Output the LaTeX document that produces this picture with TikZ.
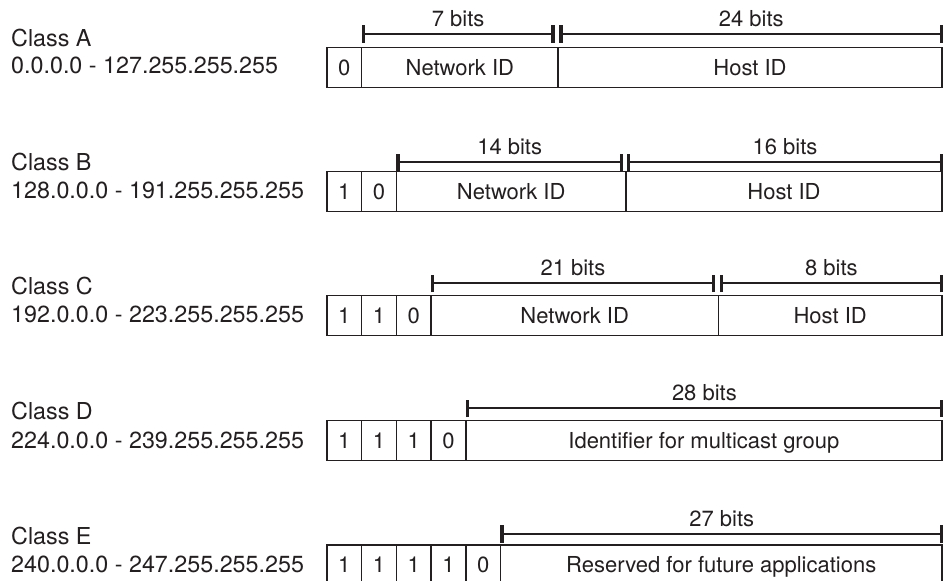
\documentclass[tikz,border=0pt]{standalone}
\usepackage{fontspec}
\setmainfont{TeX Gyre Heros}
\definecolor{ink}{HTML}{231F20}
\newcommand\tk[1]{\draw[tickline] ([yshift=-8.7pt]#1) -- ([yshift=8.7pt]#1);}
\begin{document}
\begin{tikzpicture}[x=1pt,y=-1pt,
  cell/.style={draw=ink, line width=1.4pt, anchor=north west, minimum height=40pt,
    inner sep=0pt, outer sep=0pt, text height=16pt, text depth=1pt,
    font=\fontsize{22}{26}\selectfont, text=ink},
  bitcell/.style={cell, minimum width=34.7pt},
  spanline/.style={draw=ink, line width=2.2pt},
  tickline/.style={draw=ink, line width=3.2pt},
  spanlabel/.style={anchor=base, inner sep=0pt, font=\fontsize{22}{26}\selectfont, text=ink, yshift=7.5pt},
  lbl/.style={anchor=base west, inner sep=0pt, font=\fontsize{23.3}{28}\selectfont, text=ink}]
\useasboundingbox (0,0) rectangle (943,581);

% ---------------- Class A ----------------
\node[lbl] (la) at (11,46.7) {Class A};
\node[lbl] (lar) at (11,73.3) {0.0.0.0 - 127.255.255.255};
\node[bitcell] (a1) at (327,47.7) {0};
\node[cell, minimum width=196.3pt] (aN) at (a1.north east) {Network ID};
\node[cell, minimum width=384pt] (aH) at (aN.north east) {Host ID};
\coordinate (aS)  at ([xshift=1.5pt,yshift=13.7pt]aN.north west);
\coordinate (aM1) at ([xshift=-5pt,yshift=13.7pt]aN.north east);
\coordinate (aM2) at ([xshift=3pt,yshift=13.7pt]aH.north west);
\coordinate (aE)  at ([xshift=-0.5pt,yshift=13.7pt]aH.north east);
\draw[spanline] (aS) -- node[spanlabel] (aL1) {7 bits} (aM1);
\draw[spanline] (aM2) -- node[spanlabel] (aL2) {24 bits} (aE);
\tk{aS}\tk{aM1}\tk{aM2}\tk{aE}

% ---------------- Class B ----------------
\node[lbl] (lb) at (11,170.5) {Class B};
\node[lbl] (lbr) at (11,198.7) {128.0.0.0 - 191.255.255.255};
\node[bitcell] (b1) at (327,171.7) {1};
\node[bitcell] (b2) at (b1.north east) {0};
\node[cell, minimum width=229.6pt] (bN) at (b2.north east) {Network ID};
\node[cell, minimum width=316pt] (bH) at (bN.north east) {Host ID};
\coordinate (bS)  at ([xshift=1.5pt,yshift=9.5pt]bN.north west);
\coordinate (bM1) at ([xshift=-4.5pt,yshift=9.5pt]bN.north east);
\coordinate (bM2) at ([xshift=2.5pt,yshift=9.5pt]bH.north west);
\coordinate (bE)  at ([xshift=-0.5pt,yshift=9.5pt]bH.north east);
\draw[spanline] (bS) -- node[spanlabel] (bL1) {14 bits} (bM1);
\draw[spanline] (bM2) -- node[spanlabel] (bL2) {16 bits} (bE);
\tk{bS}\tk{bM1}\tk{bM2}\tk{bE}

% ---------------- Class C ----------------
\node[lbl] (lc) at (11,294.5) {Class C};
\node[lbl] (lcr) at (11,322.7) {192.0.0.0 - 223.255.255.255};
\node[bitcell] (c1) at (327,295.7) {1};
\node[bitcell] (c2) at (c1.north east) {1};
\node[bitcell] (c3) at (c2.north east) {0};
\node[cell, minimum width=287.2pt] (cN) at (c3.north east) {Network ID};
\node[cell, minimum width=223.7pt] (cH) at (cN.north east) {Host ID};
\coordinate (cS)  at ([xshift=1.5pt,yshift=12.4pt]cN.north west);
\coordinate (cM1) at ([xshift=-5pt,yshift=12.4pt]cN.north east);
\coordinate (cM2) at ([xshift=3pt,yshift=12.4pt]cH.north west);
\coordinate (cE)  at ([xshift=-0.5pt,yshift=12.4pt]cH.north east);
\draw[spanline] (cS) -- node[spanlabel] (cL1) {21 bits} (cM1);
\draw[spanline] (cM2) -- node[spanlabel] (cL2) {8 bits} (cE);
\tk{cS}\tk{cM1}\tk{cM2}\tk{cE}

% ---------------- Class D ----------------
\node[lbl] (ld) at (11,419.3) {Class D};
\node[lbl] (ldr) at (11,448.3) {224.0.0.0 - 239.255.255.255};
\node[bitcell] (d1) at (327,420.7) {1};
\node[bitcell] (d2) at (d1.north east) {1};
\node[bitcell] (d3) at (d2.north east) {1};
\node[bitcell] (d4) at (d3.north east) {0};
\node[cell, minimum width=476.2pt] (dN) at (d4.north east) {Identifier for multicast group};
\coordinate (dS)  at ([xshift=1.5pt,yshift=12.4pt]dN.north west);
\coordinate (dE)  at ([xshift=-0.5pt,yshift=12.4pt]dN.north east);
\draw[spanline] (dS) -- node[spanlabel] (dL1) {28 bits} (dE);
\tk{dS}\tk{dE}

% ---------------- Class E ----------------
\node[lbl] (le) at (11,544) {Class E};
\node[lbl] (ler) at (11,572.7) {240.0.0.0 - 247.255.255.255};
\node[bitcell] (e1) at (327,545) {1};
\node[bitcell] (e2) at (e1.north east) {1};
\node[bitcell] (e3) at (e2.north east) {1};
\node[bitcell] (e4) at (e3.north east) {1};
\node[bitcell] (e5) at (e4.north east) {0};
\node[cell, minimum width=441.5pt] (eN) at (e5.north east) {Reserved for future applications};
\coordinate (eS)  at ([xshift=1.5pt,yshift=11pt]eN.north west);
\coordinate (eE)  at ([xshift=-0.5pt,yshift=11pt]eN.north east);
\draw[spanline] (eS) -- node[spanlabel] (eL1) {27 bits} (eE);
\tk{eS}\tk{eE}
\end{tikzpicture}
\end{document}
